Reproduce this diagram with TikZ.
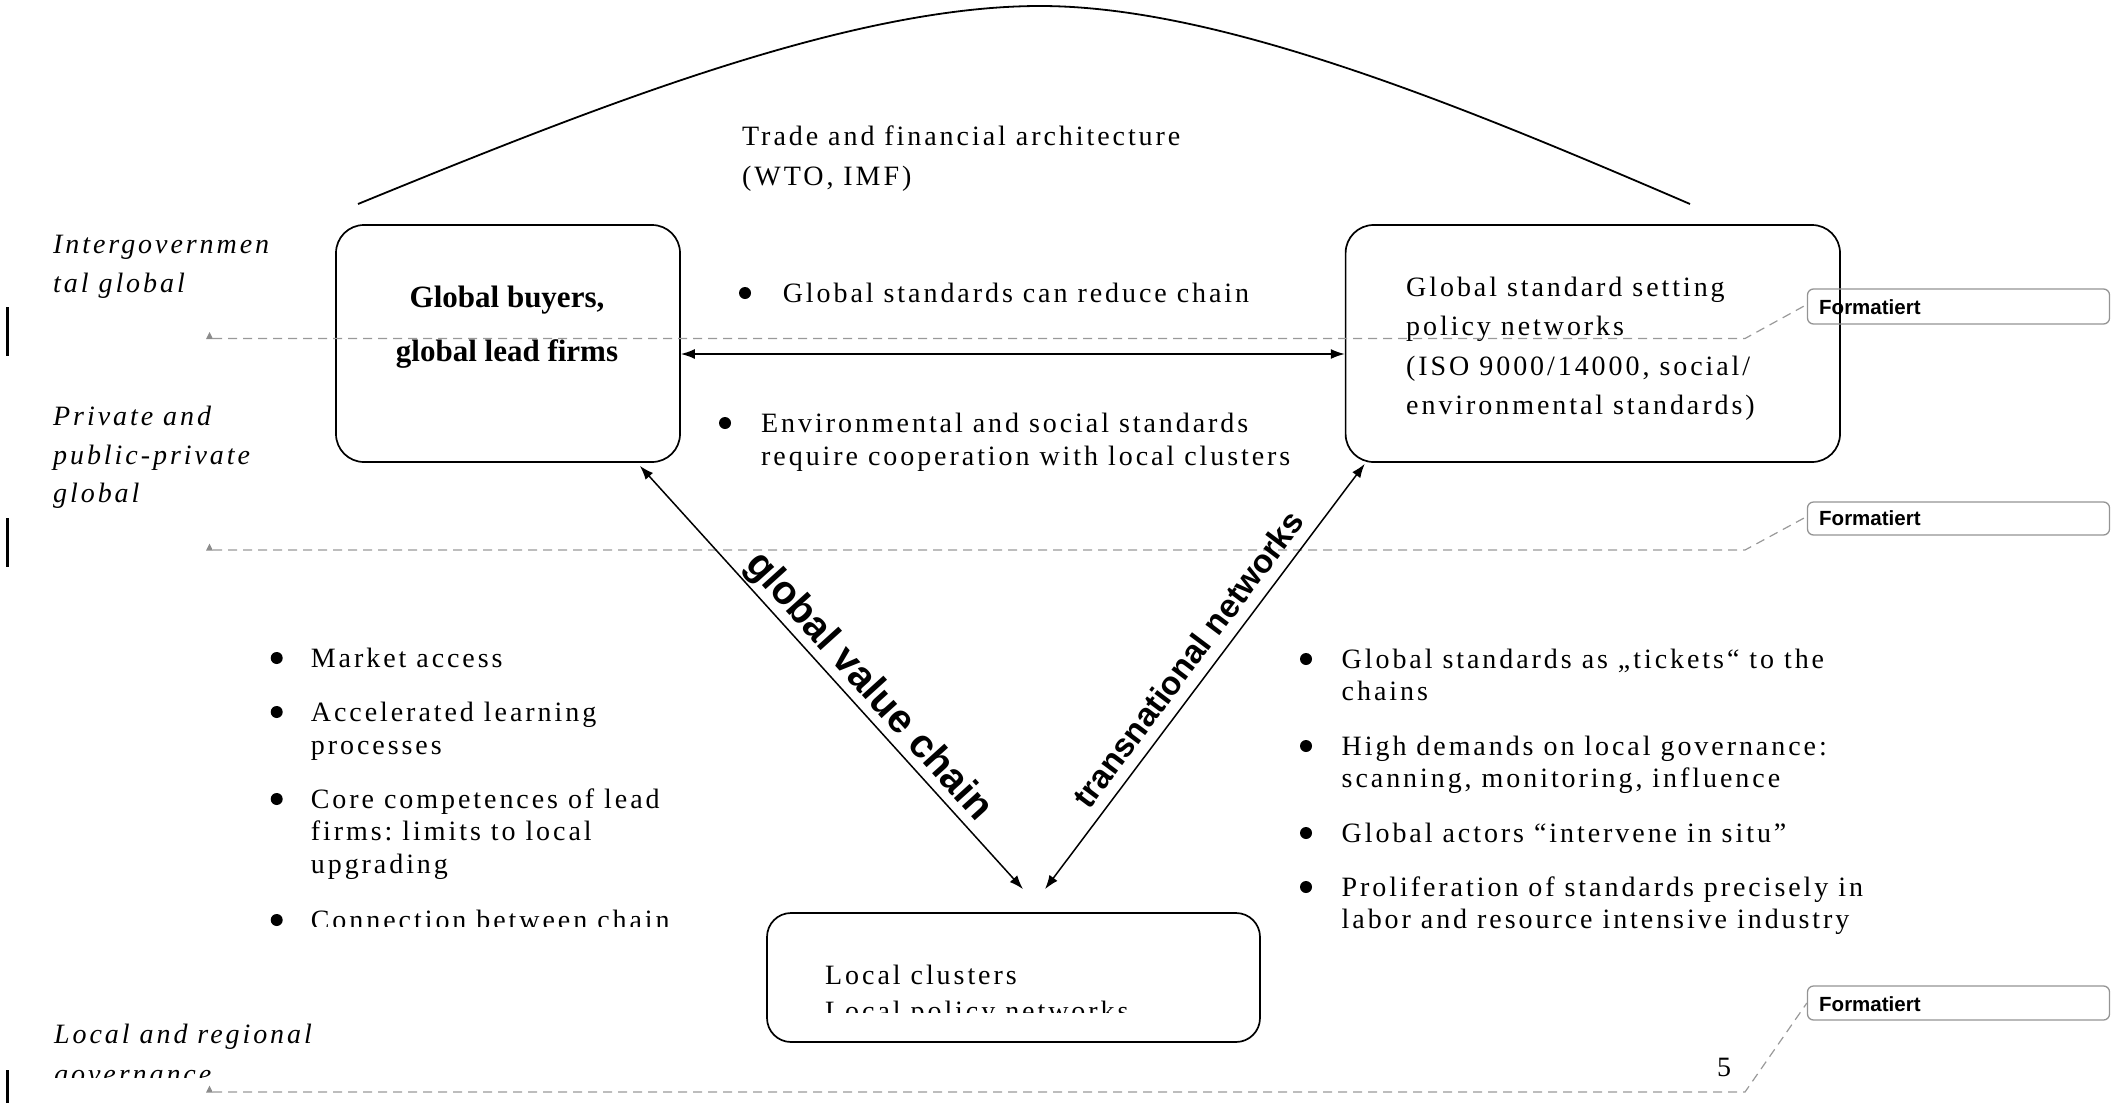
\documentclass[tikz,border=0pt]{standalone}
\usepackage{fontspec}
\setmainfont{Liberation Serif}[LetterSpace=10.5]
\newfontfamily\tightserif{Liberation Serif}
\newfontfamily\sansfont{Liberation Sans}
\usetikzlibrary{arrows.meta,calc}
\frenchspacing
\tikzset{
  box/.style={draw, line width=1.7, rounded corners=28, inner sep=0},
  fmbox/.style={draw=black!42, line width=1.3, rounded corners=6, inner sep=0},
  txt/.style={anchor=base west, inner sep=0, font=\fontsize{28}{33}\selectfont},
  lab/.style={anchor=base west, inner sep=0, font=\fontsize{28}{33}\selectfont\itshape},
  fmtxt/.style={anchor=base west, inner sep=0, font=\sansfont\bfseries\fontsize{20.5}{24}\selectfont},
  gline/.style={draw=black!40, line width=1.2, dash pattern=on 9pt off 6pt},
  gmark/.style={fill=black!45},
  bul/.style={circle, fill, inner sep=0, minimum size=12},
  arr/.style={line width=1.5, {Latex[length=14pt,width=10pt]}-{Latex[length=14pt,width=10pt]}},
  diag/.style={anchor=center, inner sep=0, font=\sansfont\bfseries},
}
\begin{document}
\frenchspacing
\begin{tikzpicture}[x=1pt,y=-1pt]
\useasboundingbox (0,0) rectangle (2112,1103);

% top arc
\draw[line width=1.8] (358,204) .. controls (600,105) and (850,6) .. (1040,6)
  .. controls (1220,6) and (1460,105) .. (1690,204);
\node[txt] (tr1) at (742,145) {Trade and financial architecture};
\node[txt] (tr2) at (742,185) {(WTO, IMF)};

% boxes
\node[box, minimum width=344, minimum height=237] (gb) at (508,343.5) {};
\node[box, minimum width=494.4, minimum height=237] (gs) at (1592.8,343.5) {};
\node[box, rounded corners=24, minimum width=493, minimum height=129] (lc) at (1013.5,977.5) {};

\node[anchor=base, inner sep=0, font=\tightserif\bfseries\fontsize{31}{36}\selectfont] (gb1) at (507,307) {Global buyers,};
\node[anchor=base, inner sep=0, font=\tightserif\bfseries\fontsize{31}{36}\selectfont] (gb2) at (507,361) {global lead firms};

\node[txt] (gs1) at (1406,296) {Global standard setting};
\node[txt] (gs2) at (1406,335.5) {policy networks};
\node[txt] (gs3) at (1406,375) {(ISO 9000/14000, social/};
\node[txt] (gs4) at (1406,414) {environmental standards)};

\node[txt] (lc1) at (825,984) {Local clusters};
\begin{scope}
  \clip (700,990) rectangle (1250,1012);
  \node[txt] (lc2) at (825,1020) {Local policy networks};
\end{scope}

% dashed guide lines with markers
\fill[gmark] (209.5,332) -- (206,339) -- (213,339) -- cycle;
\fill[gmark] (209.5,543.5) -- (206,550.5) -- (213,550.5) -- cycle;
\fill[gmark] (209.5,1085.5) -- (206,1092.5) -- (213,1092.5) -- cycle;
\node[fmbox, minimum width=302, minimum height=35] (f1) at (1958.5,306.5) {};
\node[fmbox, minimum width=302, minimum height=33] (f2) at (1958.5,518.5) {};
\node[fmbox, minimum width=302, minimum height=34] (f3) at (1958.5,1003) {};
\coordinate (d1a) at (213,338.5);
\coordinate (d1b) at (1745,338.5);
\coordinate (d2a) at (213,550);
\coordinate (d2b) at (1745,550);
\coordinate (d3a) at (213,1092);
\coordinate (d3b) at (1745,1092);
\draw[gline] (d1a) -- (d1b) -- ($(f1.west)+(0,-2)$);
\draw[gline] (d2a) -- (d2b) -- ($(f2.west)+(0,-2)$);
\draw[gline] (d3a) -- (d3b) -- (f3.west);
\node[fmtxt] (ft1) at (1819,314) {Formatiert};
\node[fmtxt] (ft2) at (1819,525) {Formatiert};
\node[fmtxt] (ft3) at (1819,1011) {Formatiert};

% change bars
\draw[line width=2.5] (7.3,307) -- (7.3,356);
\draw[line width=2.5] (7.3,518) -- (7.3,567);
\draw[line width=2.5] (7.3,1070) -- (7.3,1103);

% left labels
\node[lab] (l1) at (53,253) {Intergovernmen};
\node[lab] (l2) at (53,292) {tal global};
\node[lab] (l3) at (53,425) {Private and};
\node[lab] (l4) at (53,464) {public-private};
\node[lab] (l5) at (53,502) {global};
\node[lab] (l6) at (54,1043) {Local and regional};
\begin{scope}
  \clip (0,1050) rectangle (400,1077);
  \node[lab] (l7) at (54,1083) {governance};
\end{scope}

% arrows
\coordinate (gbA) at ($(gb.south east)+(-41,3)$);
\coordinate (gsA) at ($(gs.south west)+(20,1)$);
\coordinate (lcA) at ($(lc.north)+(9.5,-23)$);
\coordinate (lcB) at ($(lc.north)+(31.5,-23)$);
\draw[arr] ($(gb.east)+(0,10.5)$) -- ($(gs.west)+(0,10.5)$);
\draw[arr] (gbA) -- (lcA);
\draw[arr] (gsA) -- (lcB);
\node[diag, rotate=-47.9, font=\sansfont\bfseries\fontsize{40}{48}\selectfont] (gvc) at (868,687) {global value chain};
\node[diag, rotate=53.1, font=\sansfont\bfseries\fontsize{33}{40}\selectfont] (tn) at (1188,659) {transnational networks};

% top middle bullets
\node[bul] (mb1) at (745,293) {};
\node[txt] (m1) at (782.6,302) {Global standards can reduce chain};
\node[bul] (mb2) at (725,423) {};
\node[txt] (m2) at (761,432) {Environmental and social standards};
\node[txt] (m3) at (761,465) {require cooperation with local clusters};

% left bullets
\node[bul] (lb1) at (276.7,658) {};
\node[txt] (a1) at (310.7,667) {Market access};
\node[bul] (lb2) at (276.7,712) {};
\node[txt] (a2) at (310.7,721) {Accelerated learning};
\node[txt] (a3) at (310.7,754) {processes};
\node[bul] (lb3) at (276.7,799) {};
\node[txt] (a4) at (310.7,808) {Core competences of lead};
\node[txt] (a5) at (310.7,840.5) {firms: limits to local};
\node[txt] (a6) at (310.7,873) {upgrading};
\begin{scope}
  \clip (200,880) rectangle (720,926);
  \node[bul] (lb4) at (276.7,920) {};
  \node[txt] (a7) at (310.7,929) {Connection between chain};
\end{scope}

% right bullets
\node[bul] (rb1) at (1306,659) {};
\node[txt] (b1) at (1341.5,668) {Global standards as „tickets“ to the};
\node[txt] (b2) at (1341.5,700) {chains};
\node[bul] (rb2) at (1306,746) {};
\node[txt] (b3) at (1341.5,755) {High demands on local governance:};
\node[txt] (b4) at (1341.5,787) {scanning, monitoring, influence};
\node[bul] (rb3) at (1306,833) {};
\node[txt] (b5) at (1341.5,842) {Global actors “intervene in situ”};
\node[bul] (rb4) at (1306,887) {};
\node[txt] (b6) at (1341.5,896) {Proliferation of standards precisely in};
\node[txt] (b7) at (1341.5,928) {labor and resource intensive industry};

% page number
\node[anchor=base west, inner sep=0, font=\tightserif\fontsize{28}{33}\selectfont] (pg) at (1717,1076) {5};
\end{tikzpicture}
\end{document}
